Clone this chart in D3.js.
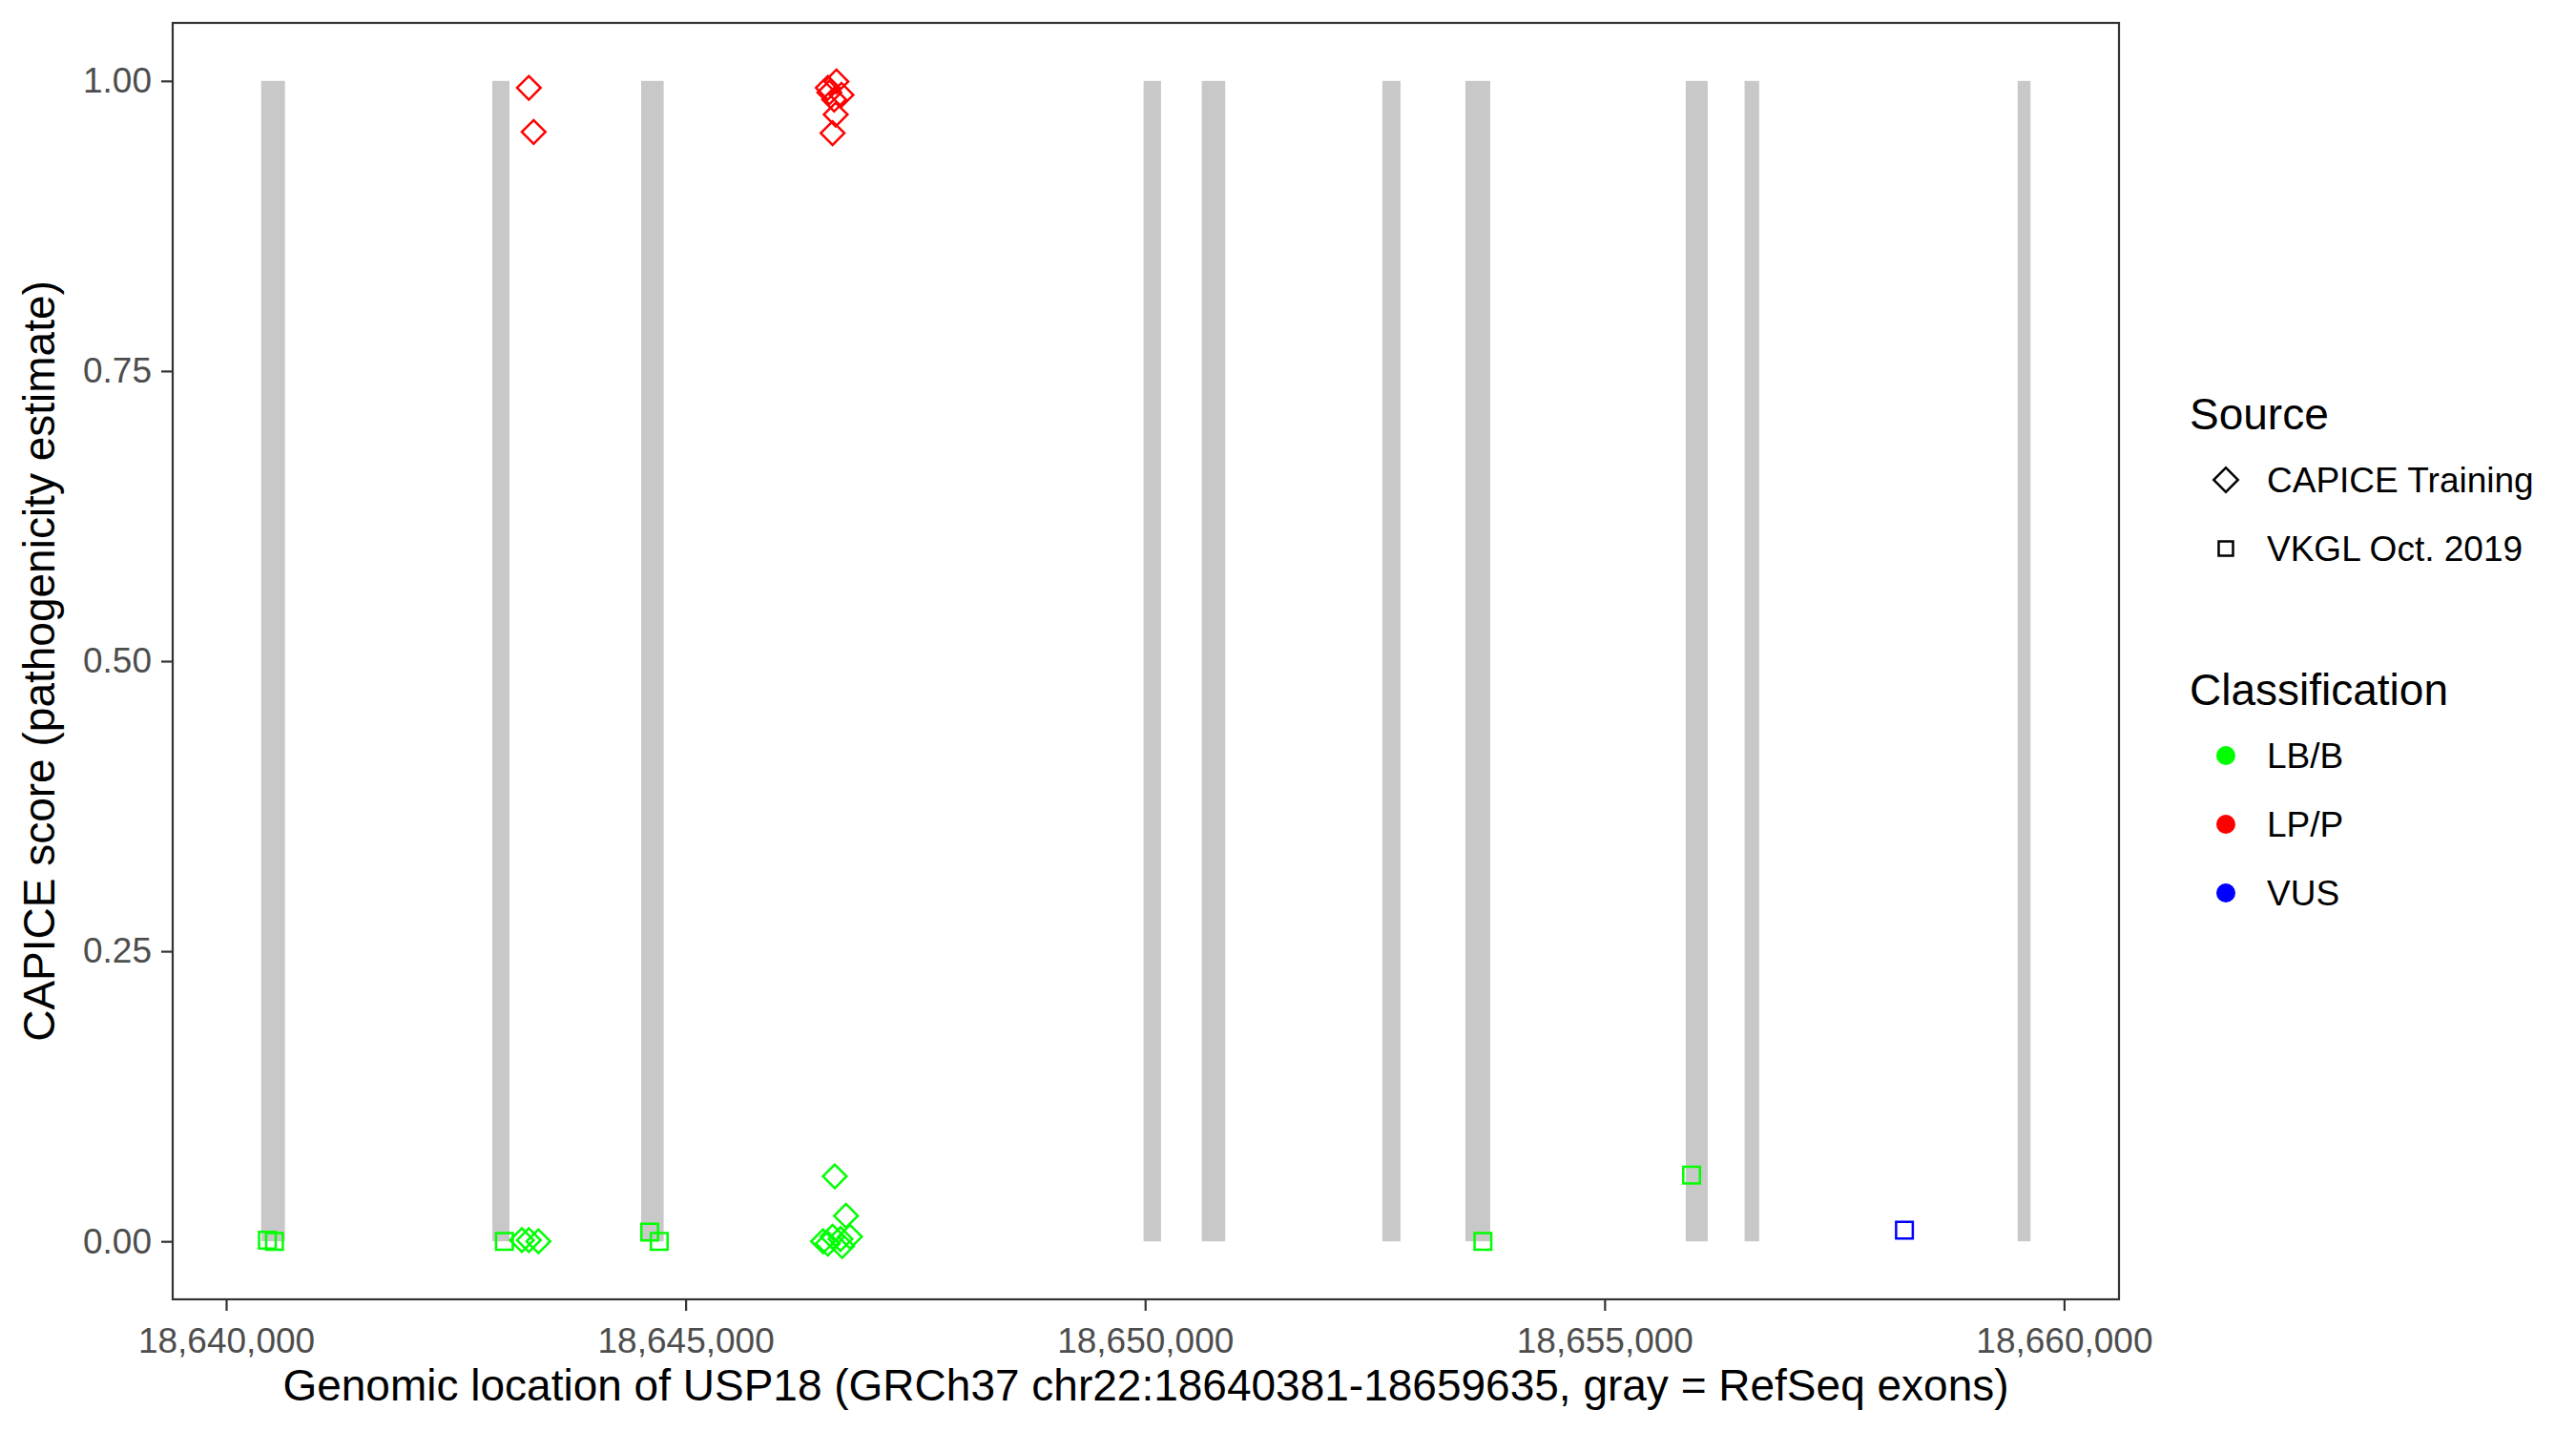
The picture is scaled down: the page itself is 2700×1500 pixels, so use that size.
<!DOCTYPE html>
<html>
<head>
<meta charset="utf-8">
<script src="https://cdn.jsdelivr.net/npm/d3@7"></script>
<style>
    body { margin: 0; background: #fff; }
    svg text { font-family: "Liberation Sans", Arial, sans-serif; }
</style>
</head>
<body>
<div id="chart"></div>
<script>
// gene USP18, GRCh37 chr22
var geneStart = 18640381,
    geneEnd = 18659635;

// RefSeq exons (gray bars)
var exonStarts = [18640381, 18642896, 18644516, 18649983, 18650617, 18652582, 18653485, 18655883, 18656523, 18659495];
var exonEnds   = [18640640, 18643083, 18644761, 18650173, 18650872, 18652779, 18653755, 18656122, 18656682, 18659635];

// variants
var variantPos = [
    18640449, 18640526, 18643028, 18644609, 18644713, 18653676, 18655947, 18658263,
    18643218, 18643294, 18643398, 18646495, 18646547, 18646599, 18646685, 18646703, 18646789, 18646745, 18646623,
    18643294, 18643346, 18646641, 18646547, 18646564, 18646696, 18646616, 18646633, 18646599
];
var variantScore = [
    0.001, 0.000, 0.000, 0.008, 0.000, 0.000, 0.057, 0.0096,
    0.001, 0.001, 0.000, 0.000, -0.002, 0.004, 0.002, -0.004, 0.004, 0.022, 0.056,
    0.994, 0.956, 0.9995, 0.994, 0.990, 0.988, 0.984, 0.971, 0.955
];
var variantSource = [
    "VKGL Oct. 2019", "VKGL Oct. 2019", "VKGL Oct. 2019", "VKGL Oct. 2019", "VKGL Oct. 2019", "VKGL Oct. 2019", "VKGL Oct. 2019", "VKGL Oct. 2019",
    "CAPICE Training", "CAPICE Training", "CAPICE Training", "CAPICE Training", "CAPICE Training", "CAPICE Training", "CAPICE Training", "CAPICE Training", "CAPICE Training", "CAPICE Training", "CAPICE Training",
    "CAPICE Training", "CAPICE Training", "CAPICE Training", "CAPICE Training", "CAPICE Training", "CAPICE Training", "CAPICE Training", "CAPICE Training", "CAPICE Training"
];
var variantClass = [
    "LB/B", "LB/B", "LB/B", "LB/B", "LB/B", "LB/B", "LB/B", "VUS",
    "LB/B", "LB/B", "LB/B", "LB/B", "LB/B", "LB/B", "LB/B", "LB/B", "LB/B", "LB/B", "LB/B",
    "LP/P", "LP/P", "LP/P", "LP/P", "LP/P", "LP/P", "LP/P", "LP/P", "LP/P"
];

var sources = ["CAPICE Training", "VKGL Oct. 2019"];
var classes = ["LB/B", "LP/P", "VUS"];
var classColors = ["#00FF00", "#FF0000", "#0000FF"];

var xTicks = [18640000, 18645000, 18650000, 18655000, 18660000];
var yTicks = [0, 0.25, 0.5, 0.75, 1];

// panel
var margin = { top: 24, right: 479, bottom: 138, left: 181 },
    W = 2700, H = 1500,
    width = W - margin.left - margin.right,
    height = H - margin.top - margin.bottom;

var svg = d3.select("#chart").append("svg")
    .attr("width", W)
    .attr("height", H);

// ggplot-like 5% expansion
var pad = (geneEnd - geneStart) * 0.05;
var x = d3.scaleLinear()
    .domain([geneStart - pad, geneEnd + pad])
    .range([margin.left, margin.left + width]);
var y = d3.scaleLinear()
    .domain([-0.05, 1.05])
    .range([margin.top + height, margin.top]);

var color = d3.scaleOrdinal().domain(classes).range(classColors);

var sq = 17.5;
function shapePath(src) {
    return d3.symbol().type(d3.symbolSquare).size(sq * sq)();
}
function shapeRot(src) {
    return src == "CAPICE Training" ? 45 : 0;
}

// exons
svg.append("g").selectAll("rect")
    .data(exonStarts.map(function (s, i) { return [s, exonEnds[i]]; }))
    .enter().append("rect")
    .attr("x", function (d) { return x(d[0]); })
    .attr("width", function (d) { return x(d[1]) - x(d[0]); })
    .attr("y", y(1))
    .attr("height", y(0) - y(1))
    .attr("fill", "#c8c8c8");

// points
var pts = variantPos.map(function (p, i) {
    return { pos: p, score: variantScore[i], src: variantSource[i], cls: variantClass[i] };
});
svg.append("g").selectAll("path")
    .data(pts)
    .enter().append("path")
    .attr("d", function (d) { return shapePath(d.src); })
    .attr("transform", function (d) {
        return "translate(" + x(d.pos) + "," + y(d.score) + ") rotate(" + shapeRot(d.src) + ")";
    })
    .attr("fill", "none")
    .attr("stroke", function (d) { return color(d.cls); })
    .attr("stroke-width", 2.5);

// panel border
svg.append("rect")
    .attr("x", margin.left)
    .attr("y", margin.top)
    .attr("width", width)
    .attr("height", height)
    .attr("fill", "none")
    .attr("stroke", "#333333")
    .attr("stroke-width", 2.2);

// axes
var xAxis = svg.append("g")
    .attr("transform", "translate(0," + (margin.top + height) + ")")
    .call(d3.axisBottom(x).tickValues(xTicks).tickFormat(d3.format(",")).tickSize(12).tickPadding(10));
var yAxis = svg.append("g")
    .attr("transform", "translate(" + margin.left + ",0)")
    .call(d3.axisLeft(y).tickValues(yTicks).tickFormat(d3.format(".2f")).tickSize(12).tickPadding(10));

[xAxis, yAxis].forEach(function (a) {
    a.select(".domain").remove();
    a.selectAll(".tick line").attr("stroke", "#333333").attr("stroke-width", 2.2);
    a.selectAll(".tick text")
        .attr("fill", "#4D4D4D")
        .style("font-size", "37px");
});
xAxis.selectAll(".tick text").attr("dy", "0.93em");

// axis titles
svg.append("text")
    .attr("x", margin.left + width / 2)
    .attr("y", 1468)
    .attr("text-anchor", "middle")
    .style("font-size", "46px")
    .text("Genomic location of USP18 (GRCh37 chr22:18640381-18659635, gray = RefSeq exons)");

svg.append("text")
    .attr("transform", "translate(57," + (margin.top + height / 2) + ") rotate(-90)")
    .attr("text-anchor", "middle")
    .style("font-size", "46px")
    .text("CAPICE score (pathogenicity estimate)");

// legends
var keyX = 2333, labX = 2376, titleX = 2295;

svg.append("text").attr("x", titleX).attr("y", 450)
    .style("font-size", "46px").text("Source");
var srcLeg = svg.append("g").selectAll("g")
    .data(sources).enter().append("g")
    .attr("transform", function (d, i) { return "translate(0," + (503 + i * 72) + ")"; });
srcLeg.append("path")
    .attr("d", function (d) {
        return d3.symbol().type(d3.symbolSquare).size(d == "CAPICE Training" ? 18 * 18 : 15 * 15)();
    })
    .attr("transform", function (d) { return "translate(" + keyX + ",0) rotate(" + shapeRot(d) + ")"; })
    .attr("fill", "none").attr("stroke", "#000").attr("stroke-width", 2.5);
srcLeg.append("text")
    .attr("x", labX).attr("dy", "0.35em")
    .style("font-size", "37px").text(function (d) { return d; });

svg.append("text").attr("x", titleX).attr("y", 739)
    .style("font-size", "46px").text("Classification");
var clsLeg = svg.append("g").selectAll("g")
    .data(classes).enter().append("g")
    .attr("transform", function (d, i) { return "translate(0," + (792 + i * 72) + ")"; });
clsLeg.append("circle")
    .attr("cx", keyX).attr("r", 10)
    .attr("fill", function (d) { return color(d); });
clsLeg.append("text")
    .attr("x", labX).attr("dy", "0.35em")
    .style("font-size", "37px").text(function (d) { return d; });
</script>
</body>
</html>
